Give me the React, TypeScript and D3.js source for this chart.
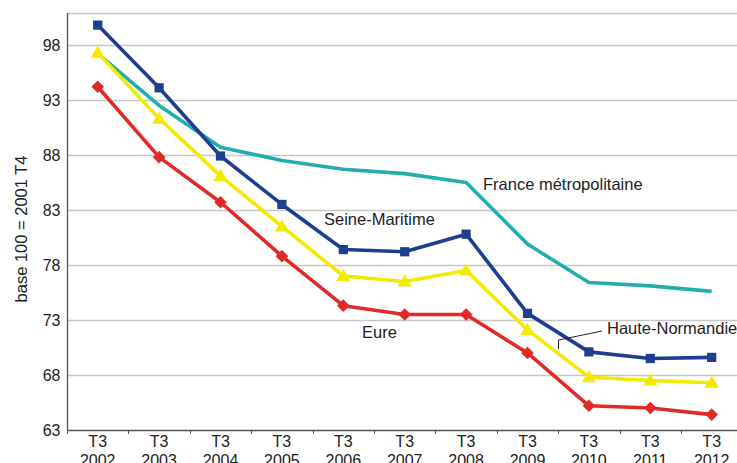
import { useEffect, useRef } from "react";
import * as d3 from "d3";

const years = ["2002", "2003", "2004", "2005", "2006", "2007", "2008", "2009", "2010", "2011", "2012"];
const yTicks = [63, 68, 73, 78, 83, 88, 93, 98];

const seineMaritime = [99.8, 94.1, 87.9, 83.5, 79.4, 79.2, 80.8, 73.6, 70.1, 69.5, 69.6];
const france = [97.2, 92.5, 88.7, 87.5, 86.7, 86.3, 85.5, 79.9, 76.4, 76.1, 75.6];
const hauteNormandie = [97.3, 91.3, 86.1, 81.5, 77.0, 76.5, 77.5, 72.1, 67.8, 67.5, 67.3];
const eure = [94.2, 87.8, 83.7, 78.8, 74.3, 73.5, 73.5, 70.0, 65.2, 65.0, 64.4];

const width = 737;
const height = 463;
const font = "'Liberation Sans', Arial, sans-serif";

type Series = { name: string; values: number[]; color: string; marker: "none" | "square" | "triangle" | "diamond" };

const series: Series[] = [
  { name: "France métropolitaine", values: france, color: "#22aeae", marker: "none" },
  { name: "Eure", values: eure, color: "#e12a27", marker: "diamond" },
  { name: "Haute-Normandie", values: hauteNormandie, color: "#f3ea00", marker: "triangle" },
  { name: "Seine-Maritime", values: seineMaritime, color: "#1e3f8f", marker: "square" },
];

const App = () => {
  const svgRef = useRef<SVGSVGElement>(null);

  useEffect(() => {
    const svg = d3.select(svgRef.current);
    svg.selectAll("*").remove();

    const x = d3.scaleBand().domain(years).range([67, 67 + 61.4 * years.length]);
    const y = d3.scaleLinear().domain([63, 100.9]).range([430, 13]);
    const cx = (i: number) => (x(years[i]) as number) + x.bandwidth() / 2;

    // gridlines
    svg
      .append("g")
      .selectAll("line")
      .data([...yTicks.slice(1), 100.9])
      .join("line")
      .attr("x1", 67)
      .attr("x2", width)
      .attr("y1", (d) => Math.round(y(d)) + 0.5)
      .attr("y2", (d) => Math.round(y(d)) + 0.5)
      .attr("stroke", "#c6c6c6")
      .attr("stroke-width", 1.5);

    // y axis
    const yAxis = svg
      .append("g")
      .attr("transform", "translate(67.5,0)")
      .call(d3.axisLeft(y).tickValues(yTicks).tickSize(0).tickPadding(7));
    yAxis.select(".domain").remove();
    yAxis.selectAll("text").attr("font-family", font).attr("font-size", 16).attr("fill", "#222");
    svg.append("line").attr("x1", 67.5).attr("x2", 67.5).attr("y1", 13).attr("y2", 430).attr("stroke", "#555").attr("stroke-width", 1.3);

    // x axis
    svg.append("line").attr("x1", 67).attr("x2", width).attr("y1", 430.5).attr("y2", 430.5).attr("stroke", "#555").attr("stroke-width", 1.3);
    svg
      .append("g")
      .selectAll("line")
      .data(years)
      .join("line")
      .attr("x1", (d) => Math.round(x(d) as number) + 0.5)
      .attr("x2", (d) => Math.round(x(d) as number) + 0.5)
      .attr("y1", 430)
      .attr("y2", 434)
      .attr("stroke", "#555");
    const xl = svg
      .append("g")
      .selectAll("text")
      .data(years)
      .join("text")
      .attr("x", (_, i) => cx(i))
      .attr("text-anchor", "middle")
      .attr("font-family", font)
      .attr("font-size", 16)
      .attr("fill", "#222");
    xl.append("tspan").attr("x", (_, i) => cx(i)).attr("y", 447).text("T3");
    xl.append("tspan").attr("x", (_, i) => cx(i)).attr("y", 466).text((d) => d);

    // y axis title
    svg
      .append("text")
      .attr("transform", "translate(27,229) rotate(-90)")
      .attr("text-anchor", "middle")
      .attr("font-family", font)
      .attr("font-size", 16.5)
      .attr("fill", "#222")
      .text("base 100 = 2001 T4");

    const line = d3
      .line<number>()
      .x((_, i) => cx(i))
      .y((d) => y(d));

    series.forEach((s) => {
      const g = svg.append("g");
      g.append("path")
        .attr("d", line(s.values))
        .attr("fill", "none")
        .attr("stroke", s.color)
        .attr("stroke-width", 3.6)
        .attr("stroke-linejoin", "round");
      if (s.marker === "none") return;
      const shape =
        s.marker === "triangle" ? d3.symbol(d3.symbolTriangle, 85) : d3.symbol(d3.symbolSquare, s.marker === "square" ? 85 : 80);
      g.selectAll("path.m")
        .data(s.values)
        .join("path")
        .attr("class", "m")
        .attr("d", shape)
        .attr(
          "transform",
          (d, i) =>
            `translate(${cx(i)},${y(d) + (s.marker === "triangle" ? 1 : 0)})` + (s.marker === "diamond" ? " rotate(45)" : "")
        )
        .attr("fill", s.color);
    });

    // series labels
    const labels = [
      { text: "France métropolitaine", x: 483, y: 190 },
      { text: "Seine-Maritime", x: 324, y: 225 },
      { text: "Eure", x: 362, y: 338 },
      { text: "Haute-Normandie", x: 607, y: 334 },
    ];
    svg
      .append("g")
      .selectAll("text")
      .data(labels)
      .join("text")
      .attr("x", (d) => d.x)
      .attr("y", (d) => d.y)
      .attr("font-family", font)
      .attr("font-size", 16.5)
      .attr("fill", "#222")
      .text((d) => d.text);

    // leader line for Haute-Normandie
    svg
      .append("path")
      .attr("d", "M558.5,349 L558.5,340 L602,331")
      .attr("fill", "none")
      .attr("stroke", "#222")
      .attr("stroke-width", 1);
  }, []);

  return (
    <div style={{ position: "fixed", left: 0, top: 0, width, height, background: "#fff" }}>
      <svg ref={svgRef} width={width} height={height} style={{ display: "block" }} />
    </div>
  );
};

export default App;
